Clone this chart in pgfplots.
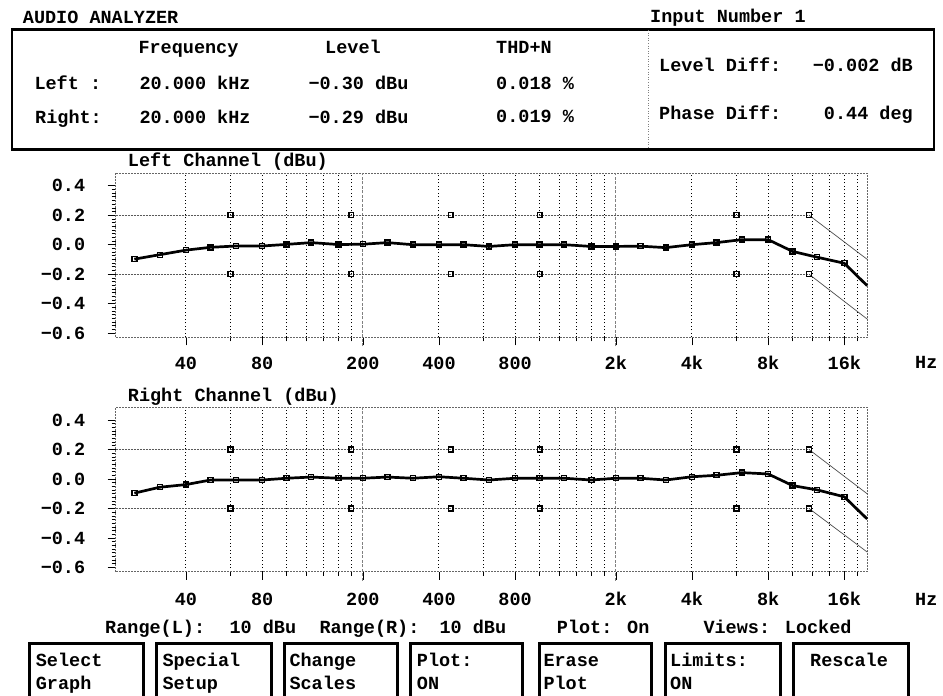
\documentclass[border=0pt]{standalone}
\usepackage{fontspec}
\setmainfont{Liberation Mono}
\usepackage{pgfplots}
\pgfplotsset{compat=1.18}
\newcommand{\myfont}{\fontsize{18.5}{20}\selectfont\bfseries}

\pgfplotstableread{
fr     lv      rv
25     -0.098  -0.096
31.5   -0.068  -0.056
40     -0.037  -0.038
50     -0.018  -0.007
63     -0.009  -0.007
80     -0.009  -0.007
100     0.002   0.005
125     0.014   0.013
160     0.001   0.005
200     0.003   0.005
250     0.014   0.013
315     0.000   0.005
400     0.000   0.015
500     0.000   0.005
630    -0.012  -0.007
800     0.000   0.005
1000    0.000   0.005
1250    0.000   0.005
1600   -0.012  -0.007
2000   -0.012   0.005
2500   -0.010   0.005
3150   -0.020  -0.007
4000    0.000   0.015
5000    0.014   0.025
6300    0.034   0.043
8000    0.034   0.034
10000  -0.046  -0.045
12500  -0.085  -0.074
16000  -0.126  -0.121
19700  -0.278  -0.271
}\mydata

\begin{document}
\begin{tikzpicture}[x=1pt,y=1pt]
\useasboundingbox (0pt,0pt) rectangle (943pt,696pt);

\begin{axis}[at={(115.7pt,523pt)}, anchor=north west,
  scale only axis, width=751.6pt, height=164.3pt,
  xmode=log, xmin=21.1, xmax=19730, ymin=-0.628, ymax=0.486,
  clip=false,
  axis line style={gray!80!black, line width=0.8pt, dash pattern=on 2pt off 1pt},
  tick pos=left, tick align=outside,
  major tick length=8pt, minor tick length=4pt,
  tick style={black, line width=0.6pt},
  xtick={40,80,200,400,800,2000,4000,8000,16000},
  xticklabels={40,80,200,400,800,2k,4k,8k,16k},
  minor xtick={40,60,80,100,120,140,160,180,400,600,800,1000,1200,1400,1600,1800,4000,6000,8000,10000,12000,14000,16000,18000},
  xminorgrids=true,
  minor x grid style={black, line width=1pt, dash pattern=on 1pt off 2.5pt},
  ytick={-0.6,-0.4,-0.2,0,0.2,0.4},
  yticklabels={−0.6,−0.4,−0.2,0.0,0.2,0.4},
  minor y tick num=7,
  ticklabel style={font=\myfont},
  xticklabel style={anchor=base, yshift=-24pt},
  yticklabel style={anchor=east, xshift=-19pt}]
 \addplot[gray, line width=0.8pt, dash pattern=on 3pt off 1.5pt] coordinates {(200,-0.69) (200,0.486)};
 \addplot[gray, line width=0.8pt, dash pattern=on 3pt off 1.5pt] coordinates {(2000,-0.69) (2000,0.486)};
 \addplot[gray!70!black, line width=0.9pt, dash pattern=on 2pt off 1pt] coordinates {(21.1,0.2) (11600,0.2)};
 \addplot[gray!70!black, line width=0.9pt, dash pattern=on 2pt off 1pt] coordinates {(21.1,-0.2) (11600,-0.2)};
 \addplot[gray!60!black, line width=0.7pt] coordinates {(11600,0.2) (19730,-0.10)};
 \addplot[gray!60!black, line width=0.7pt] coordinates {(11600,-0.2) (19730,-0.505)};
 \addplot[only marks, mark=square, mark size=2.4pt, mark options={black, fill=white, line width=1.4pt}] coordinates {(60,0.2)(180,0.2)(445,0.2)(1000,0.2)(6000,0.2)(11600,0.2)};
 \addplot[only marks, mark=square, mark size=2.4pt, mark options={black, fill=white, line width=1.4pt}] coordinates {(60,-0.2)(180,-0.2)(445,-0.2)(1000,-0.2)(6000,-0.2)(11600,-0.2)};
 \addplot[black, line width=2.7pt, mark=square, mark size=2.5pt, mark indices={1,...,29}, mark options={solid, fill=white, line width=1.4pt}] table[x=fr, y=lv] {\mydata};
\end{axis}

\begin{axis}[at={(115.7pt,288.7pt)}, anchor=north west,
  scale only axis, width=751.6pt, height=164.3pt,
  xmode=log, xmin=21.1, xmax=19730, ymin=-0.628, ymax=0.486,
  clip=false,
  axis line style={gray!80!black, line width=0.8pt, dash pattern=on 2pt off 1pt},
  tick pos=left, tick align=outside,
  major tick length=8pt, minor tick length=4pt,
  tick style={black, line width=0.6pt},
  xtick={40,80,200,400,800,2000,4000,8000,16000},
  xticklabels={40,80,200,400,800,2k,4k,8k,16k},
  minor xtick={40,60,80,100,120,140,160,180,400,600,800,1000,1200,1400,1600,1800,4000,6000,8000,10000,12000,14000,16000,18000},
  xminorgrids=true,
  minor x grid style={black, line width=1pt, dash pattern=on 1pt off 2.5pt},
  ytick={-0.6,-0.4,-0.2,0,0.2,0.4},
  yticklabels={−0.6,−0.4,−0.2,0.0,0.2,0.4},
  minor y tick num=7,
  ticklabel style={font=\myfont},
  xticklabel style={anchor=base, yshift=-26pt},
  yticklabel style={anchor=east, xshift=-19pt}]
 \addplot[gray, line width=0.8pt, dash pattern=on 3pt off 1.5pt] coordinates {(200,-0.69) (200,0.486)};
 \addplot[gray, line width=0.8pt, dash pattern=on 3pt off 1.5pt] coordinates {(2000,-0.69) (2000,0.486)};
 \addplot[gray!70!black, line width=0.9pt, dash pattern=on 2pt off 1pt] coordinates {(21.1,0.2) (11600,0.2)};
 \addplot[gray!70!black, line width=0.9pt, dash pattern=on 2pt off 1pt] coordinates {(21.1,-0.2) (11600,-0.2)};
 \addplot[gray!60!black, line width=0.7pt] coordinates {(11600,0.2) (19730,-0.101)};
 \addplot[gray!60!black, line width=0.7pt] coordinates {(11600,-0.2) (19730,-0.496)};
 \addplot[only marks, mark=square, mark size=2.4pt, mark options={black, fill=white, line width=1.4pt}] coordinates {(60,0.2)(180,0.2)(445,0.2)(1000,0.2)(6000,0.2)(11600,0.2)};
 \addplot[only marks, mark=square, mark size=2.4pt, mark options={black, fill=white, line width=1.4pt}] coordinates {(60,-0.2)(180,-0.2)(445,-0.2)(1000,-0.2)(6000,-0.2)(11600,-0.2)};
 \addplot[black, line width=2.7pt, mark=square, mark size=2.5pt, mark indices={1,...,29}, mark options={solid, fill=white, line width=1.4pt}] table[x=fr, y=rv] {\mydata};
\end{axis}

\begin{scope}[yshift=696pt, y=-1pt, every node/.style={font=\myfont, inner sep=0pt, anchor=base west}]
 \node at (22.7,23.3) {AUDIO ANALYZER};
 \node at (650,22.7) {Input Number 1};
 \draw[line width=2.5pt] (12,29.5) rectangle (934,149.5);
 \draw[gray, dotted, line width=0.6pt] (648.3,30) -- (648.3,149);
 \node at (138.3,53.3) {Frequency};
 \node at (325,53.3) {Level};
 \node at (496,53.3) {THD+N};
 \node at (34.3,89.3) {Left :};
 \node at (139.3,89.3) {20.000 kHz};
 \node at (308.3,89.3) {−0.30 dBu};
 \node at (496,90) {0.018 \%};
 \node at (35,124) {Right:};
 \node at (139.3,124) {20.000 kHz};
 \node at (308.3,124) {−0.29 dBu};
 \node at (496,123) {0.019 \%};
 \node at (659,72) {Level Diff:};
 \node[anchor=base east] at (913,72) {−0.002 dB};
 \node at (659,120) {Phase Diff:};
 \node[anchor=base east] at (913,120) {0.44 deg};
 \node at (127.7,167) {Left Channel (dBu)};
 \node at (127.7,402) {Right Channel (dBu)};
 \node at (915,369) {Hz};
 \node at (915,605.5) {Hz};
 \node at (105,633.3) {Range(L):};
 \node at (229.3,633.3) {10 dBu};
 \node at (319.3,633.3) {Range(R):};
 \node at (439.3,633.3) {10 dBu};
 \node at (556.7,633.3) {Plot: On};
 \node at (703.3,633.3) {Views: Locked};
 \foreach \a/\b in {27.7/145, 155/272.7, 282.7/399, 409.3/524.3, 537.7/653.3, 664.3/781.7, 791.7/910}{
   \draw[line width=3pt] (\a+1.5,700) -- (\a+1.5,643.2) -- (\b-1.5,643.2) -- (\b-1.5,700);
 }
 \node at (35.7,667) {Select};   \node at (35.7,690) {Graph};
 \node at (162.3,667) {Special}; \node at (162.3,690) {Setup};
 \node at (289.3,667) {Change};  \node at (289.3,690) {Scales};
 \node at (416.7,667) {Plot:};   \node at (416.7,690) {ON};
 \node at (543.3,667) {Erase};   \node at (543.3,690) {Plot};
 \node at (670,667) {Limits:};   \node at (670,690) {ON};
 \node at (810,667) {Rescale};
\end{scope}
\end{tikzpicture}
\end{document}
